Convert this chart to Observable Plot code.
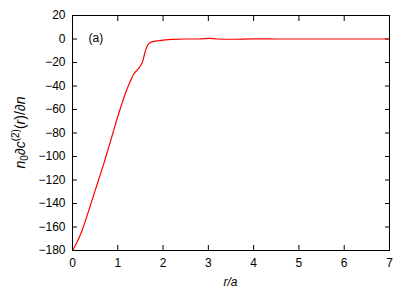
<!DOCTYPE html>
<html>
<head>
<meta charset="utf-8">
<script src="https://cdn.jsdelivr.net/npm/d3@7"></script>
<script src="https://cdn.jsdelivr.net/npm/@observablehq/plot@0.6"></script>
<style>
  html, body { margin: 0; padding: 0; background: #fff; }
  svg { font-family: "Liberation Sans", Arial, sans-serif; }
</style>
</head>
<body>
<div id="chart"></div>
<script>
const rValues = [0, 0.1, 0.2, 0.3, 0.4, 0.5, 0.6, 0.7, 0.8, 0.9, 1.0, 1.1, 1.2, 1.3, 1.35, 1.4, 1.45, 1.5, 1.55, 1.6, 1.65, 1.7, 1.75, 1.8, 1.9, 2.0, 2.2, 2.5, 2.8, 3.0, 3.2, 3.5, 4.0, 4.5, 5.0, 5.5, 6.0, 6.5, 7.0];
const yValues = [-180, -173, -164, -153, -141, -129, -117, -105, -92, -79, -66, -54, -43, -34, -30, -27.5, -25.5, -23, -19, -11.5, -6, -3.5, -2.5, -2, -1.5, -1, -0.3, 0, 0, 0.5, 0, -0.2, 0.1, 0, 0, 0, 0, 0, 0];
const xTicks = [0, 1, 2, 3, 4, 5, 6, 7];
const yTicks = [-180, -160, -140, -120, -100, -80, -60, -40, -20, 0, 20];
const panelLabel = "(a)";
const xLabel = "r/a";

const data = rValues.map((r, i) => ({r, y: yValues[i]}));
const fmt = d => d < 0 ? "\u2212" + Math.abs(d) : String(d);

const chart = Plot.plot({
  width: 409,
  height: 292,
  marginLeft: 72,
  marginRight: 20,
  marginTop: 15,
  marginBottom: 42,
  style: {fontFamily: "Liberation Sans, Arial, sans-serif", fontSize: "12px", color: "#000", background: "#fff"},
  x: {domain: [0, 7]},
  y: {domain: [-180, 20]},
  marks: [
    Plot.axisX({anchor: "bottom", ticks: xTicks, tickSize: -5, tickPadding: 13, tickFormat: fmt, label: null, fontSize: 12}),
    Plot.axisX({anchor: "top", ticks: xTicks, tickSize: -5, tickFormat: () => "", label: null}),
    Plot.axisY({anchor: "left", ticks: yTicks, tickSize: -5, tickPadding: 12, tickFormat: fmt, label: null, fontSize: 12}),
    Plot.axisY({anchor: "right", ticks: yTicks, tickSize: -5, tickFormat: () => "", label: null}),
    Plot.line(data, {x: "r", y: "y", stroke: "#ff0000", strokeWidth: 1.2, curve: "monotone-x"}),
    Plot.frame({stroke: "#000", strokeWidth: 1}),
    Plot.text([panelLabel], {frameAnchor: "top-left", dx: 16, dy: 18, text: d => d, fontSize: 12, textAnchor: "start"})
  ]
});

const svg = d3.select(chart);
svg.append("text")
  .attr("x", 230.5).attr("y", 286)
  .attr("text-anchor", "middle")
  .attr("font-size", 12)
  .attr("font-style", "italic")
  .attr("fill", "#000")
  .text(xLabel);

const yl = svg.append("text")
  .attr("transform", "translate(25,132.5) rotate(-90)")
  .attr("text-anchor", "middle")
  .attr("font-size", 14)
  .attr("fill", "#000");
yl.append("tspan").attr("font-style", "italic").text("n");
yl.append("tspan").attr("font-size", 10).attr("dy", 3).text("0");
yl.append("tspan").attr("dy", -3).text("\u2202");
yl.append("tspan").attr("font-style", "italic").text("c");
yl.append("tspan").attr("font-size", 10).attr("dy", -6).text("(2)");
yl.append("tspan").attr("dy", 6).text("(");
yl.append("tspan").attr("font-style", "italic").text("r");
yl.append("tspan").text(")/\u2202");
yl.append("tspan").attr("font-style", "italic").text("n");

document.getElementById("chart").appendChild(chart);
</script>
</body>
</html>
